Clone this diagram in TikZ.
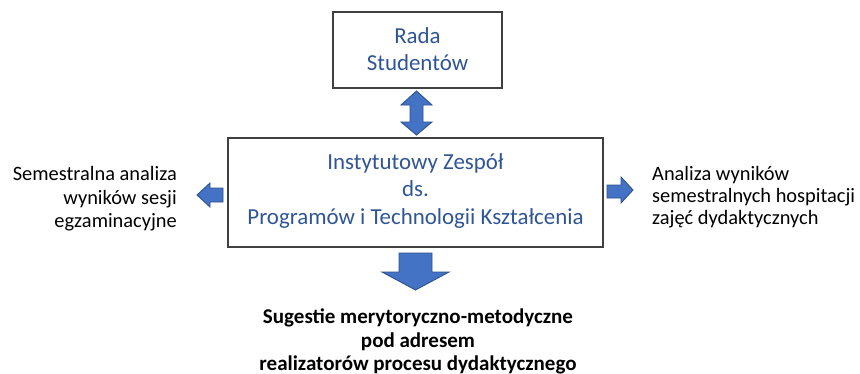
\documentclass[tikz,border=0pt]{standalone}
\usepackage{fontspec}
\setmainfont{Carlito}
\definecolor{txtblue}{HTML}{2F5597}
\definecolor{arrfill}{HTML}{4472C4}
\definecolor{arrline}{HTML}{2F528F}
\definecolor{boxline}{HTML}{404040}
\tikzset{
  boxnode/.style={draw=boxline, line width=1.2pt, fill=white, inner sep=0pt},
  boxtext/.style={text=txtblue, font=\fontsize{22.9}{27}\selectfont, inner sep=0pt, anchor=base},
  sidetext/.style={text=black, font=\fontsize{20.4}{24}\selectfont, inner sep=0pt},
  bottext/.style={text=black, font=\fontsize{21}{24}\selectfont\bfseries, inner sep=0pt, anchor=base},
  blockarrow/.style={fill=arrfill, draw=arrline, line width=0.9pt, line join=miter}
}
\begin{document}
\begin{tikzpicture}[x=1pt,y=-1pt]
\useasboundingbox (0,0) rectangle (860,373);
\fill[white] (0,0) rectangle (860,373);
% boxes
\node[boxnode, minimum width=169pt, minimum height=76pt] (rada) at (417.5,50) {};
\node[boxnode, minimum width=375pt, minimum height=109pt] (main) at (415.5,192.5) {};
% box texts
\node[boxtext] (r1) at (417.5,43) {Rada};
\node[boxtext] (r2) at (417.5,70.5) {Studentów};
\node[boxtext] (m1) at (415.5,169) {Instytutowy Zespół};
\node[boxtext] (m2) at (415.5,196.5) {ds.};
\node[boxtext] (m3) at (415.5,224) {Programów i Technologii Kształcenia};
% left text
\node[sidetext, anchor=base east] (l1) at (177,180) {Semestralna analiza};
\node[sidetext, anchor=base east] (l2) at (177,204) {wyników sesji};
\node[sidetext, anchor=base east] (l3) at (177,227) {egzaminacyjne};
% right text
\node[sidetext, anchor=base west] (p1) at (652,180) {Analiza wyników};
\node[sidetext, anchor=base west] (p2) at (652,202) {semestralnych hospitacji};
\node[sidetext, anchor=base west] (p3) at (652,224) {zajęć dydaktycznych};
% bottom text
\node[bottext] (b1) at (418,323) {Sugestie merytoryczno-metodyczne};
\node[bottext] (b2) at (418,347) {pod adresem};
\node[bottext] (b3) at (418,370) {realizatorów procesu dydaktycznego};
% block arrows
\draw[blockarrow] (416.5,91) -- (432,105) -- (423,105) -- (423,122) -- (432,122) -- (416.5,135) -- (401,122) -- (410,122) -- (410,105) -- (401,105) -- cycle;
\draw[blockarrow] (197,195) -- (210,183) -- (210,188) -- (223,188) -- (223,202) -- (210,202) -- (210,207) -- cycle;
\draw[blockarrow] (633,190) -- (621,177) -- (621,185) -- (607,185) -- (607,198) -- (621,198) -- (621,203) -- cycle;
\draw[blockarrow] (415.5,290) -- (449,272) -- (432,272) -- (432,253) -- (399,253) -- (399,272) -- (382,272) -- cycle;
\end{tikzpicture}
\end{document}
